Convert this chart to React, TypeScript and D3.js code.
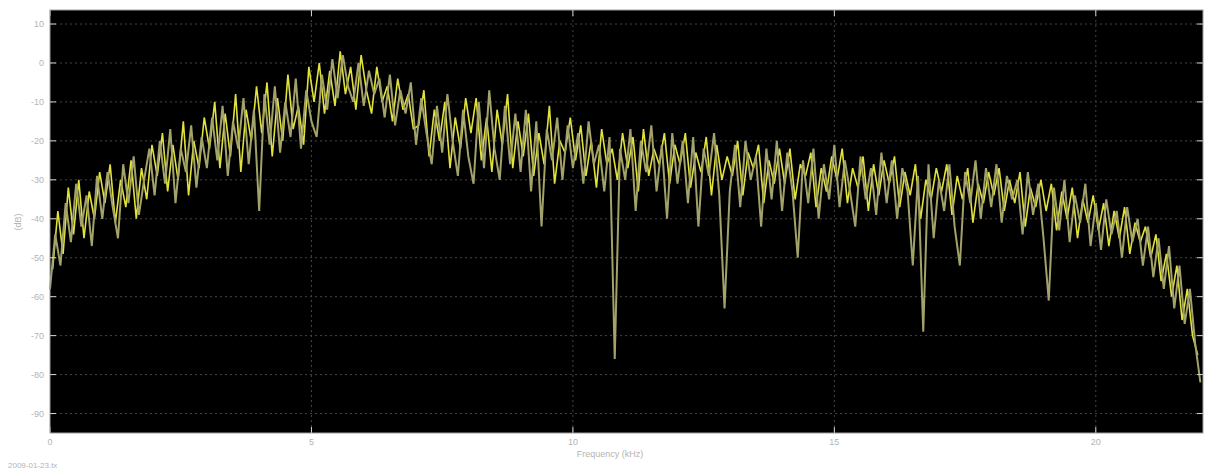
import React, { useEffect, useRef } from 'react';
import * as d3 from 'd3';

// spectrum, olive trace at i*0.1 kHz, yellow trace at i*0.1+0.05 kHz
const freqStep = 0.1;

const levelOlive = [
  -58, -44, -52, -36, -46, -31, -42, -34, -47, -29,
  -40, -28, -37, -45, -26, -36, -24, -39, -30, -22,
  -34, -20, -31, -17, -36, -22, -28, -16, -32, -19,
  -27, -14, -25, -11, -29, -15, -22, -9, -26, -12,
  -38, -8, -21, -6, -23, -10, -19, -4, -22, -7,
  -15, -19, -3, -12, 1, -9, 2, -6, -10, 0,
  -11, -2, -8, -4, -14, -3, -16, -7, -13, -5,
  -21, -9, -18, -26, -11, -23, -8, -20, -29, -12,
  -24, -31, -10, -27, -7, -22, -30, -11, -26, -13,
  -28, -12, -33, -15, -42, -17, -25, -14, -30, -16,
  -27, -18, -31, -15, -26, -21, -33, -19, -76, -22,
  -30, -17, -38, -20, -28, -16, -33, -21, -40, -18,
  -31, -20, -36, -19, -42, -22, -29, -18, -34, -63,
  -33, -21, -37, -20, -30, -24, -42, -22, -35, -20,
  -38, -23, -33, -50, -25, -36, -22, -40, -26, -35,
  -21, -37, -25, -33, -42, -24, -35, -27, -39, -23,
  -36, -25, -40, -27, -33, -52, -29, -69, -26, -45,
  -30, -38, -26, -42, -52, -28, -36, -25, -40, -27,
  -37, -26, -41, -29, -35, -30, -44, -28, -39, -31,
  -45, -61, -32, -43, -30, -46, -34, -41, -31, -47,
  -36, -48, -35, -44, -38, -50, -37, -46, -40, -52,
  -42, -55, -45, -58, -47, -63, -52, -67, -58, -72,
  -82,
];

const levelYellow = [
  -53, -38, -49, -32, -44, -30, -45, -33, -40, -28,
  -36, -26, -41, -30, -37, -25, -40, -27, -35, -21,
  -29, -18, -33, -21, -30, -15, -34, -20, -27, -14,
  -22, -10, -27, -13, -24, -8, -28, -12, -20, -6,
  -18, -5, -24, -9, -20, -3, -17, -11, -21, -1,
  -10, 0, -13, -2, -11, 3, -8, -1, -12, 2,
  -7, -13, -1, -10, -6, -15, -4, -12, -8, -17,
  -16, -7, -24, -12, -20, -10, -27, -14, -22, -9,
  -18, -9, -25, -14, -28, -12, -21, -8, -27, -15,
  -24, -13, -29, -18, -26, -11, -31, -20, -23, -14,
  -25, -16, -29, -20, -32, -17, -26, -22, -30, -18,
  -27, -19, -33, -17, -29, -22, -26, -18, -31, -21,
  -26, -18, -32, -23, -28, -19, -34, -21, -30, -24,
  -29, -20, -34, -23, -27, -21, -36, -25, -31, -22,
  -31, -22, -35, -26, -29, -23, -37, -27, -33, -24,
  -30, -22, -36, -27, -32, -24, -38, -26, -34, -25,
  -31, -24, -37, -28, -34, -26, -40, -30, -35, -27,
  -33, -26, -39, -29, -35, -27, -41, -31, -36, -28,
  -34, -27, -38, -30, -36, -28, -42, -32, -37, -30,
  -38, -31, -43, -33, -40, -32, -45, -35, -41, -34,
  -43, -36, -47, -38, -45, -37, -49, -41, -46, -42,
  -50, -44, -56, -49, -60, -52, -66, -58, -70, -75,
];

const xTicks = [0, 5, 10, 15, 20];
const yTicks = [10, 0, -10, -20, -30, -40, -50, -60, -70, -80, -90];

const Spectrum = () => {
  const ref = useRef(null);

  useEffect(() => {
    const svg = d3.select(ref.current);
    svg.selectAll('*').remove();

    const width = 1206;
    const height = 475;
    const margin = { top: 10, right: 3, bottom: 42, left: 50 };

    svg.attr('width', width).attr('height', height);

    const x = d3.scaleLinear()
      .domain([0, 22.05])
      .range([margin.left, width - margin.right]);
    const y = d3.scaleLinear()
      .domain([-95, 13.6])
      .range([height - margin.bottom, margin.top]);

    const x0 = margin.left, x1 = width - margin.right;
    const y0 = height - margin.bottom, y1 = margin.top;

    svg.append('rect')
      .attr('width', width).attr('height', height).attr('fill', '#fff');

    svg.append('rect')
      .attr('x', x0).attr('y', y1)
      .attr('width', x1 - x0).attr('height', y0 - y1)
      .attr('fill', '#000');

    // dotted grid
    const grid = svg.append('g')
      .attr('stroke', '#444')
      .attr('stroke-dasharray', '2,3');
    grid.selectAll('.gy').data(yTicks).enter().append('line')
      .attr('x1', x0).attr('x2', x1)
      .attr('y1', d => y(d)).attr('y2', d => y(d));
    grid.selectAll('.gx').data(xTicks.slice(1)).enter().append('line')
      .attr('y1', y1).attr('y2', y0)
      .attr('x1', d => x(d)).attr('x2', d => x(d));

    const lineOlive = d3.line()
      .x((d, i) => x(i * freqStep))
      .y(d => y(d));
    const lineYellow = d3.line()
      .x((d, i) => x(i * freqStep + freqStep / 2))
      .y(d => y(d));

    svg.append('path')
      .datum(levelYellow)
      .attr('fill', 'none')
      .attr('stroke', '#e2e23c')
      .attr('stroke-width', 1.6)
      .attr('stroke-linejoin', 'bevel')
      .attr('d', lineYellow);

    svg.append('path')
      .datum(levelOlive)
      .attr('fill', 'none')
      .attr('stroke', '#a2a26a')
      .attr('stroke-width', 2)
      .attr('stroke-linejoin', 'bevel')
      .attr('d', lineOlive);

    // inward ticks
    const ticks = svg.append('g').attr('stroke', '#d8d8d8');
    yTicks.forEach(t => {
      ticks.append('line').attr('x1', x0).attr('x2', x0 + 6).attr('y1', y(t)).attr('y2', y(t));
      ticks.append('line').attr('x1', x1 - 6).attr('x2', x1).attr('y1', y(t)).attr('y2', y(t));
    });
    xTicks.forEach(t => {
      ticks.append('line').attr('x1', x(t)).attr('x2', x(t)).attr('y1', y0).attr('y2', y0 - 6);
      ticks.append('line').attr('x1', x(t)).attr('x2', x(t)).attr('y1', y1).attr('y2', y1 + 6);
    });

    svg.append('rect')
      .attr('x', x0).attr('y', y1)
      .attr('width', x1 - x0).attr('height', y0 - y1)
      .attr('fill', 'none')
      .attr('stroke', '#a0a0a0');

    const font = 'Liberation Sans, Arial, sans-serif';
    const labels = svg.append('g')
      .attr('font-family', font)
      .attr('font-size', 9)
      .attr('fill', '#b4b4b4');

    labels.selectAll('.yl').data(yTicks).enter().append('text')
      .attr('x', x0 - 6)
      .attr('y', d => y(d))
      .attr('dy', '0.35em')
      .attr('text-anchor', 'end')
      .text(d => d);

    labels.selectAll('.xl').data(xTicks).enter().append('text')
      .attr('x', d => x(d))
      .attr('y', y0 + 12)
      .attr('text-anchor', 'middle')
      .text(d => d);

    labels.append('text')
      .attr('x', 610).attr('y', y0 + 24)
      .attr('text-anchor', 'middle')
      .text('Frequency (kHz)');

    labels.append('text')
      .attr('transform', 'translate(21,222) rotate(-90)')
      .attr('text-anchor', 'middle')
      .text('(dB)');

    labels.append('text')
      .attr('x', 8).attr('y', 468)
      .attr('font-size', 8)
      .text('2009-01-23.tx');
  }, []);

  return <svg ref={ref} style={{ position: 'absolute', left: 0, top: 0, display: 'block' }}></svg>;
};

export default function App() {
  return <Spectrum />;
}
